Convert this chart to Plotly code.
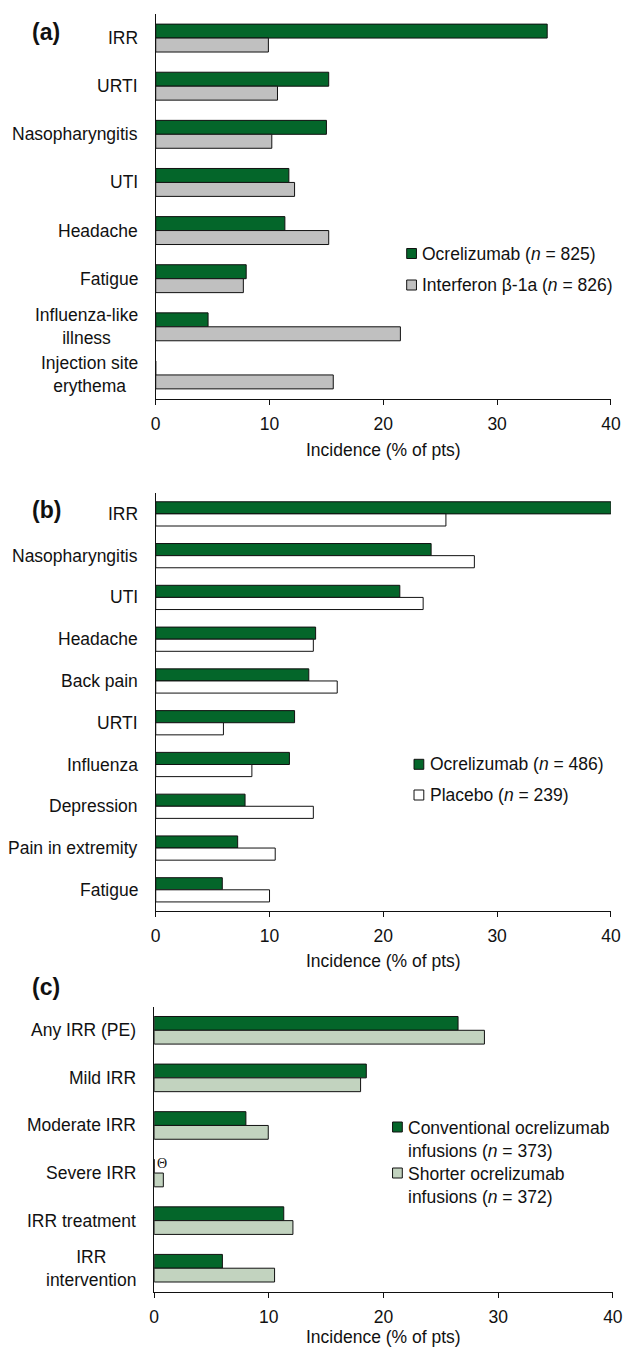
import plotly.graph_objects as go

# ---------------- data ----------------
cats_a = ["IRR", "URTI", "Nasopharyngitis", "UTI", "Headache", "Fatigue",
          "Influenza-like<br>illness", "Injection site<br>erythema"]
ocr_a = [34.4, 15.2, 15.0, 11.7, 11.35, 7.95, 4.6, 0]
ifn_a = [9.9, 10.7, 10.2, 12.2, 15.2, 7.7, 21.5, 15.6]

cats_b = ["IRR", "Nasopharyngitis", "UTI", "Headache", "Back pain", "URTI",
          "Influenza", "Depression", "Pain in extremity", "Fatigue"]
ocr_b = [40.0, 24.2, 21.45, 14.05, 13.45, 12.2, 11.75, 7.85, 7.2, 5.85]
pbo_b = [25.5, 28.0, 23.5, 13.85, 15.95, 5.95, 8.45, 13.85, 10.5, 10.0]

cats_c = ["Any IRR (PE)", "Mild IRR", "Moderate IRR", "Severe IRR",
          "IRR treatment", "IRR<br>intervention"]
conv_c = [26.5, 18.5, 8.0, 0, 11.3, 5.95]
short_c = [28.8, 18.0, 9.95, 0.8, 12.1, 10.5]

x_ticks = [0, 10, 20, 30, 40]
x_title = "Incidence (% of pts)"

leg_a = ["Ocrelizumab (<i>n</i> = 825)", "Interferon β-1a (<i>n</i> = 826)"]
leg_b = ["Ocrelizumab (<i>n</i> = 486)", "Placebo (<i>n</i> = 239)"]
leg_c = ["Conventional ocrelizumab<br>infusions (<i>n</i> = 373)",
         "Shorter ocrelizumab<br>infusions (<i>n</i> = 372)"]

# ---------------- style ----------------
W, H = 630, 1349
FONT = "Liberation Sans, Arial, sans-serif"
FS = 17.5
TXT = "#111111"
GREEN = "#04662a"
GREY = "#c0c0c0"
WHITE = "#ffffff"
LGREEN = "#c2d3bf"


def py(p):
    return 1 - p / H


def px(p):
    return p / W


panels = [
    dict(cats=cats_a, s1=ocr_a, s2=ifn_a, c2=GREY, leg=leg_a,
         x0=154.4, x1=620.7, y0=14, y1=399, lab="(a)", laby=32, ty=450,
         legx=411.5, legtx=425.5, legy=[253.5, 285.0]),
    dict(cats=cats_b, s1=ocr_b, s2=pbo_b, c2=WHITE, leg=leg_b,
         x0=154.4, x1=620.7, y0=493, y1=910.7, lab="(b)", laby=510, ty=960.5,
         legx=419.0, legtx=433.0, legy=[764.3, 795.0]),
    dict(cats=cats_c, s1=conv_c, s2=short_c, c2=LGREEN, leg=leg_c,
         x0=152.8, x1=622.7, y0=1006.5, y1=1292, lab="(c)", laby=987, ty=1337,
         legx=397.0, legtx=410.5, legy=[1127.0, 1173.0]),
]

fig = go.Figure()
annotations = []
shapes = []

for i, p in enumerate(panels):
    sfx = "" if i == 0 else str(i + 1)
    xa, ya = "x" + sfx, "y" + sfx
    fig.add_trace(go.Bar(y=p["cats"], x=p["s1"], orientation="h",
                         marker=dict(color=GREEN, line=dict(color="#111", width=1)),
                         xaxis=xa, yaxis=ya, showlegend=False, name=p["leg"][0]))
    fig.add_trace(go.Bar(y=p["cats"], x=p["s2"], orientation="h",
                         marker=dict(color=p["c2"], line=dict(color="#111", width=1)),
                         xaxis=xa, yaxis=ya, showlegend=False, name=p["leg"][1]))
    n = len(p["cats"])
    fig.update_layout(**{
        "xaxis" + sfx: dict(domain=[px(p["x0"]), px(p["x1"])], anchor=ya,
                            range=[0, 40], tickvals=x_ticks, ticks="outside",
                            ticklen=5, tickcolor="#111", showline=True,
                            linecolor="#111", linewidth=1, showgrid=False,
                            zeroline=False, ticklabelstandoff=4,
                            ticklabeloverflow="allow",
                            tickfont=dict(family=FONT, size=FS, color=TXT)),
        "yaxis" + sfx: dict(domain=[py(p["y1"]), py(p["y0"])], anchor=xa,
                            type="category", categoryorder="array",
                            categoryarray=p["cats"], range=[n - 0.5, -0.5],
                            showline=True, linecolor="#111", linewidth=1,
                            ticks="", showticklabels=False, showgrid=False,
                            zeroline=False),
    })
    # x-axis title
    annotations.append(dict(text=x_title, x=0.5, xref=xa + " domain",
                            y=py(p["ty"]), yref="paper", xanchor="center",
                            yanchor="middle", showarrow=False,
                            font=dict(family=FONT, size=FS, color=TXT)))
    # category labels (centered multi-line, right edge near axis)
    for c in p["cats"]:
        annotations.append(dict(text=c, x=px(p["x0"] - 16.5), xref="paper",
                                y=c, yref=ya, xanchor="right", yanchor="middle",
                                align="center", showarrow=False,
                                font=dict(family=FONT, size=FS, color=TXT)))
    # panel label
    annotations.append(dict(text="<b>" + p["lab"] + "</b>", x=px(26), xref="paper",
                            y=py(p["laby"]), yref="paper", xanchor="left",
                            yanchor="middle", showarrow=False,
                            font=dict(family=FONT, size=23, color=TXT)))
    # legend keys
    for k, (txt, col) in enumerate(zip(p["leg"], [GREEN, p["c2"]])):
        yc = p["legy"][k]
        shapes.append(dict(type="rect", xref="paper", yref="paper",
                           x0=px(p["legx"]), x1=px(p["legx"] + 10),
                           y0=py(yc + 5), y1=py(yc - 5), fillcolor=col,
                           line=dict(color="#111", width=1)))
        annotations.append(dict(text=txt, x=px(p["legtx"]), xref="paper",
                                y=py(yc - 11) if "<br>" in txt else py(yc),
                                yref="paper", xanchor="left",
                                yanchor="top" if "<br>" in txt else "middle",
                                align="left", showarrow=False,
                                font=dict(family=FONT, size=FS, color=TXT)))

# zero marker for severe IRR (conventional)
annotations.append(dict(text="Θ", x=0, xref="x3", y="Severe IRR", yref="y3",
                        xanchor="left", yanchor="middle", xshift=1, yshift=10,
                        showarrow=False,
                        font=dict(family="Liberation Serif, serif", size=14, color=TXT)))

fig.update_layout(width=W, height=H, margin=dict(l=0, r=0, t=0, b=0),
                  plot_bgcolor="white", paper_bgcolor="white",
                  barmode="group", bargap=0.42, bargroupgap=0,
                  annotations=annotations, shapes=shapes,
                  font=dict(family=FONT, size=FS, color=TXT))

fig.write_html("out.html",
               config={"displayModeBar": False},
               post_script="document.body.style.margin='0';"
                           "document.body.style.overflow='hidden';")
